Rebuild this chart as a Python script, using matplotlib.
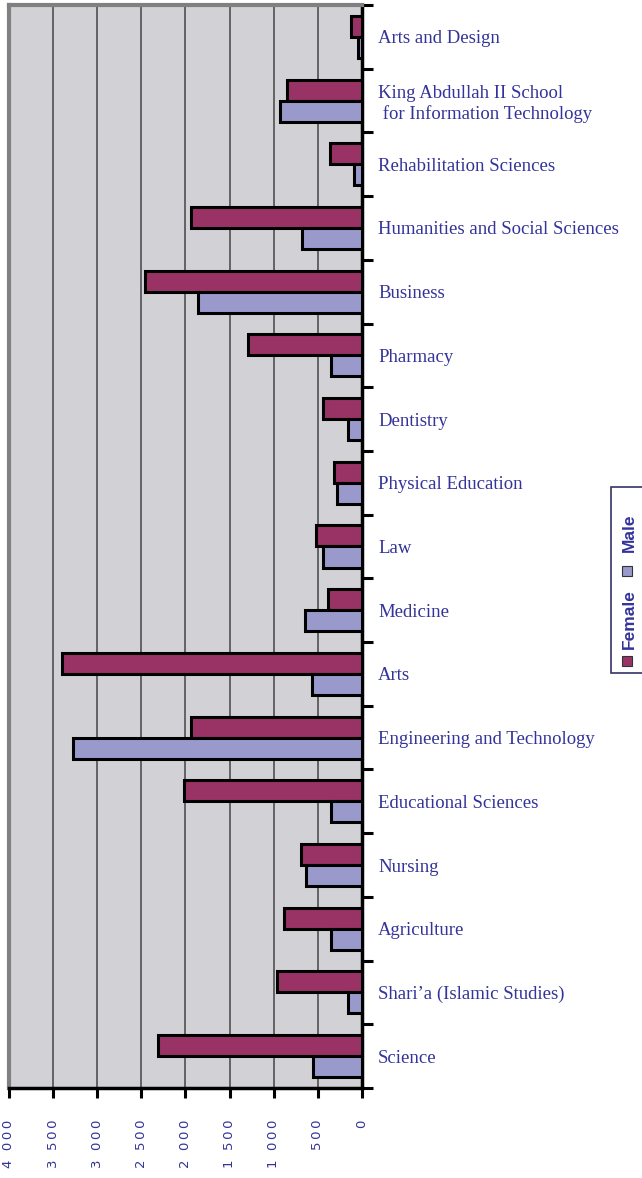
import matplotlib.pyplot as plt
from matplotlib.patches import Rectangle

# faculties, top to bottom
faculties = [
    "Arts and Design",
    "King Abdullah II School\n for Information Technology",
    "Rehabilitation Sciences",
    "Humanities and Social Sciences",
    "Business",
    "Pharmacy",
    "Dentistry",
    "Physical Education",
    "Law",
    "Medicine",
    "Arts",
    "Engineering and Technology",
    "Educational Sciences",
    "Nursing",
    "Agriculture",
    "Shari\u2019a (Islamic Studies)",
    "Science",
]

female = [120, 850, 365, 1940, 2460, 1290, 440, 320, 520, 385,
          3400, 1940, 2020, 690, 880, 965, 2310]
male = [40, 930, 90, 680, 1860, 350, 160, 285, 440, 645,
        570, 3280, 350, 635, 350, 160, 560]

ticks = [0, 500, 1000, 1500, 2000, 2500, 3000, 3500, 4000]
tick_labels = ["0", "500", "1 000", "1 500", "2 000",
               "2 500", "3 000", "3 500", "4 000"]

text_blue = "#333399"
fem_col = "#993366"
male_col = "#9999cc"


def spaced(s):
    # the reference draws the numbers with wide letter spacing
    return "\u2009".join(s)


fig = plt.figure(figsize=(6.42, 11.78), dpi=100)
ax = fig.add_axes([9 / 642, 1 - 1088 / 1178, 353 / 642, 1083 / 1178])
ax.set_facecolor("#d2d2d6")

n = len(faculties)
pos = list(range(n))
h = 0.33
ax.barh([p - h / 2 for p in pos], female, height=h, color=fem_col,
        edgecolor="black", linewidth=2.2, zorder=3, label="Female")
ax.barh([p + h / 2 for p in pos], male, height=h, color=male_col,
        edgecolor="black", linewidth=2.2, zorder=3, label="Male")

ax.set_xlim(4000, 0)
ax.set_ylim(n - 0.5, -0.5)

ax.set_xticks(ticks)
ax.set_xticklabels([spaced(t) for t in tick_labels], rotation=90,
                   color=text_blue, fontsize=9.5, family="DejaVu Sans")
ax.tick_params(axis="x", direction="out", length=7, width=2.2,
               pad=16, color="black")
ax.xaxis.grid(True, color="#444444", linewidth=1.1, zorder=0)
ax.set_axisbelow(True)

# category boundaries as major ticks on the right, names at centres
ax.yaxis.tick_right()
ax.set_yticks([p - 0.5 for p in range(n + 1)])
ax.set_yticklabels([])
ax.tick_params(axis="y", which="major", direction="out", length=8,
               width=2.2, color="black")
ax.set_yticks(pos, minor=True)
ax.set_yticklabels(faculties, minor=True, color=text_blue,
                   fontsize=13.5, family="Liberation Serif", ha="left")
ax.tick_params(axis="y", which="minor", length=0, pad=11.5)

for s in ["left", "top"]:
    ax.spines[s].set_color("#808080")
    ax.spines[s].set_linewidth(3)
for s in ["right", "bottom"]:
    ax.spines[s].set_color("black")
    ax.spines[s].set_linewidth(2.5)

# rotated legend
fig.patches.append(Rectangle((611 / 642, 1 - 673 / 1178), 40 / 642, 186 / 1178,
                             transform=fig.transFigure, facecolor="white",
                             edgecolor="#333366", linewidth=1.2))
fig.patches.append(Rectangle((622 / 642, 1 - 666 / 1178), 10 / 642, 10 / 1178,
                             transform=fig.transFigure, facecolor=fem_col,
                             edgecolor="#333333", linewidth=0.8))
fig.patches.append(Rectangle((622 / 642, 1 - 576 / 1178), 10 / 642, 10 / 1178,
                             transform=fig.transFigure, facecolor=male_col,
                             edgecolor="#333333", linewidth=0.8))
fig.text(629 / 642, 1 - 619 / 1178, "Female", rotation=90, ha="center",
         va="center", color=text_blue, fontsize=12.5, fontweight="bold",
         family="Liberation Sans")
fig.text(629 / 642, 1 - 533 / 1178, "Male", rotation=90, ha="center",
         va="center", color=text_blue, fontsize=12.5, fontweight="bold",
         family="Liberation Sans")

fig.savefig("out.png", dpi=100)
